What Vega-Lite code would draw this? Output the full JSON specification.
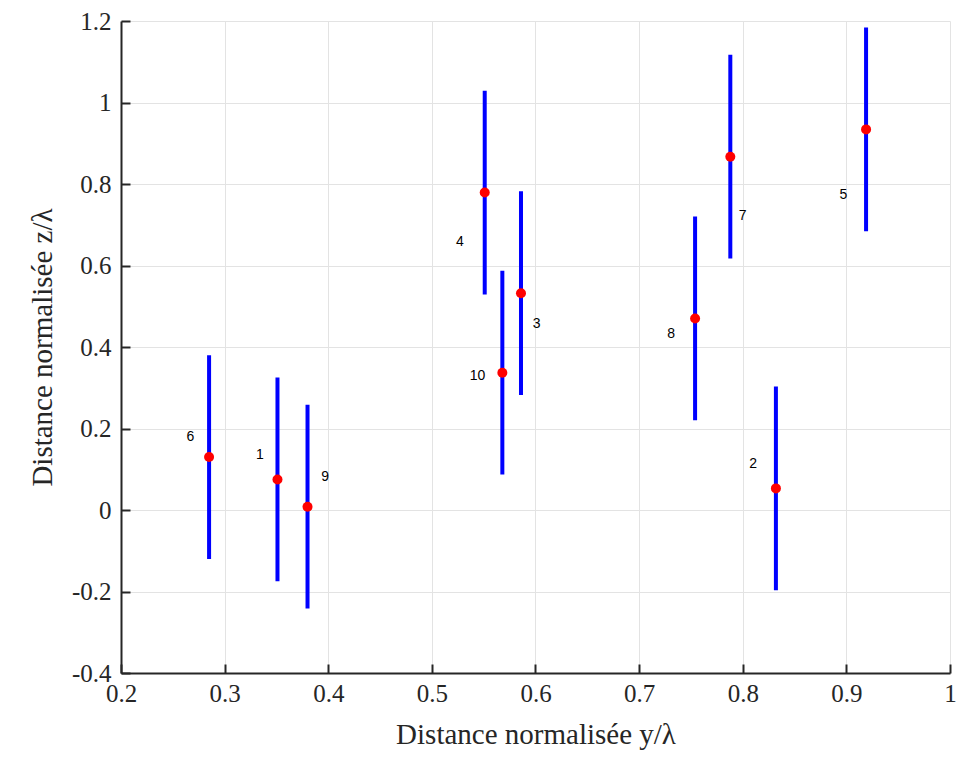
{
  "$schema": "https://vega.github.io/schema/vega-lite/v6.json",
  "width": 829,
  "height": 652,
  "autosize": "none",
  "padding": {"left": 121, "top": 21, "right": 6, "bottom": 95},
  "background": "white",
  "config": {
    "view": {"stroke": null},
    "axis": {
      "labelFont": "Liberation Serif",
      "labelFontSize": 25,
      "labelColor": "#262626",
      "titleFont": "Liberation Serif",
      "titleFontSize": 29,
      "titleFontWeight": "normal",
      "titleColor": "#262626",
      "domainColor": "#262626",
      "domainWidth": 2,
      "tickColor": "#262626",
      "tickWidth": 2,
      "tickSize": -9,
      "gridColor": "#e3e3e3",
      "gridWidth": 1
    }
  },
  "data": {
    "values": [
      {"id": "1", "x": 0.351, "z": 0.075, "lx": 0.334, "lz": 0.134},
      {"id": "2", "x": 0.832, "z": 0.053, "lx": 0.810, "lz": 0.114},
      {"id": "3", "x": 0.586, "z": 0.532, "lx": 0.601, "lz": 0.456},
      {"id": "4", "x": 0.551, "z": 0.779, "lx": 0.527, "lz": 0.657},
      {"id": "5", "x": 0.919, "z": 0.934, "lx": 0.897, "lz": 0.772},
      {"id": "6", "x": 0.285, "z": 0.130, "lx": 0.267, "lz": 0.180},
      {"id": "7", "x": 0.788, "z": 0.867, "lx": 0.800, "lz": 0.721},
      {"id": "8", "x": 0.754, "z": 0.470, "lx": 0.731, "lz": 0.431},
      {"id": "9", "x": 0.380, "z": 0.008, "lx": 0.397, "lz": 0.082},
      {"id": "10", "x": 0.568, "z": 0.337, "lx": 0.544, "lz": 0.328}
    ]
  },
  "transform": [
    {"calculate": "datum.z - 0.25", "as": "lo"},
    {"calculate": "datum.z + 0.25", "as": "hi"}
  ],
  "layer": [
    {
      "mark": {"type": "rule", "color": "#0000ff", "strokeWidth": 4},
      "encoding": {
        "x": {
          "field": "x", "type": "quantitative",
          "scale": {"domain": [0.2, 1], "nice": false, "zero": false},
          "axis": {"values": [0.2, 0.3, 0.4, 0.5, 0.6, 0.7, 0.8, 0.9, 1], "labelExpr": "format(datum.value, '.1~f')", "labelPadding": 17, "labelFlush": false, "title": "Distance normalisée y/λ", "titlePadding": 14}
        },
        "y": {
          "field": "lo", "type": "quantitative",
          "scale": {"domain": [-0.4, 1.2], "nice": false, "zero": false},
          "axis": {"values": [-0.4, -0.2, 0, 0.2, 0.4, 0.6, 0.8, 1, 1.2], "labelExpr": "replace(format(datum.value, '.1~f'), '−', '-')", "labelPadding": 19, "labelFlush": false, "title": "Distance normalisée z/λ", "titlePadding": 14}
        },
        "y2": {"field": "hi"}
      }
    },
    {
      "mark": {"type": "point", "filled": true, "color": "#ff0000", "size": 100, "opacity": 1},
      "encoding": {
        "x": {"field": "x", "type": "quantitative"},
        "y": {"field": "z", "type": "quantitative"}
      }
    },
    {
      "mark": {"type": "text", "font": "Liberation Sans", "fontSize": 14, "color": "#000000", "align": "center", "baseline": "middle"},
      "encoding": {
        "x": {"field": "lx", "type": "quantitative"},
        "y": {"field": "lz", "type": "quantitative"},
        "text": {"field": "id"}
      }
    }
  ]
}
